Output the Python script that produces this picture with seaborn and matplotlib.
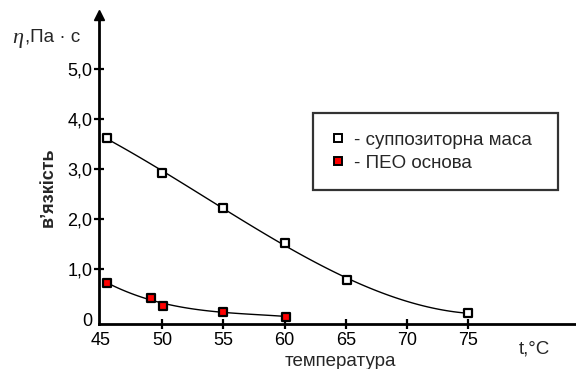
import matplotlib
matplotlib.use("Agg")
import matplotlib.pyplot as plt
import seaborn as sns
import pandas as pd
from matplotlib.lines import Line2D

# Viscosity of suppository bases vs temperature
supp_t = [45.5, 50.0, 55.0, 60.0, 65.1, 75.0]
supp_eta = [3.62, 2.92, 2.22, 1.52, 0.78, 0.12]

peo_t = [45.5, 49.1, 50.1, 55.0, 60.1]
peo_eta = [0.72, 0.42, 0.27, 0.14, 0.05]

x_ticks = [45, 50, 55, 60, 65, 70, 75]
y_ticks = [0, 1, 2, 3, 4, 5]
y_tick_labels = ["0", "1,0", "2,0", "3,0", "4,0", "5,0"]

supp = pd.DataFrame({"t": supp_t, "eta": supp_eta})
peo = pd.DataFrame({"t": peo_t, "eta": peo_eta})

sns.set_theme(style="ticks")
plt.rcParams["font.family"] = ["Liberation Sans", "DejaVu Sans"]

fig = plt.figure(figsize=(5.76, 3.69), dpi=100)
ax = fig.add_axes([99 / 576, 45 / 369, 477 / 576, 309 / 369])

# smooth trend curves
sns.regplot(data=supp, x="t", y="eta", order=3, ci=None, scatter=False,
            line_kws=dict(color="black", lw=1.0), ax=ax)
sns.regplot(data=peo, x="t", y="eta", order=3, ci=None, scatter=False,
            line_kws=dict(color="black", lw=1.0), ax=ax)

# data markers
sns.scatterplot(data=supp, x="t", y="eta", marker="s", s=38, color="white",
                edgecolor="black", linewidth=1.6, zorder=5, ax=ax)
sns.scatterplot(data=peo, x="t", y="eta", marker="s", s=38, color="#ff0000",
                edgecolor="black", linewidth=1.6, zorder=5, ax=ax)

ax.set_xlim(44.84, 83.82)
ax.set_ylim(-0.1, 6.08)
ax.set_xticks(x_ticks)
ax.set_xticklabels([str(v) for v in x_ticks])
ax.set_yticks(y_ticks)
ax.set_yticklabels(y_tick_labels)
ax.yaxis.get_major_ticks()[0].tick1line.set_visible(False)
ax.xaxis.get_major_ticks()[0].tick1line.set_visible(False)

ax.set_xlabel("")
ax.set_ylabel("")
for side in ("top", "right"):
    ax.spines[side].set_visible(False)
for side in ("left", "bottom"):
    ax.spines[side].set_linewidth(2.0)
    ax.spines[side].set_color("black")
ax.tick_params(axis="both", direction="inout", length=6.5, width=1.6,
               colors="black", labelsize=13, pad=2.5)
ax.tick_params(axis="y", pad=1.5)

# arrow at the top of the vertical axis
ax.plot(0, 1, marker="^", color="black", markersize=7, transform=ax.transAxes,
        clip_on=False, zorder=10)

# axis captions
fig.text(12 / 576, 1 - 38 / 369, "η", fontsize=16, va="center",
         ha="left", family="Liberation Serif", style="italic")
fig.text(25 / 576, 1 - 37 / 369, ",Па · с", fontsize=13.5, va="center",
         ha="left")
fig.text(48 / 576, 1 - 187 / 369, "в’язкість", fontsize=13, rotation=90,
         va="center", ha="center", fontweight="bold")
fig.text(340 / 576, 1 - 361 / 369, "температура", fontsize=13.5,
         va="center", ha="center")
fig.text(534 / 576, 1 - 349 / 369, "t,°C", fontsize=13.5, va="center",
         ha="center")

handles = [
    Line2D([], [], ls="none", marker="s", markersize=6, markerfacecolor="white",
           markeredgecolor="black", markeredgewidth=1.4),
    Line2D([], [], ls="none", marker="s", markersize=6, markerfacecolor="#ff0000",
           markeredgecolor="black", markeredgewidth=1.4),
]
leg = ax.legend(handles, ["- суппозиторна маса", "- ПЕО основа"],
                loc="upper left", bbox_to_anchor=(0.449, 0.430, 0.513, 0.253),
                mode="expand", fontsize=13.5, frameon=True, fancybox=False,
                borderpad=1.0, handlelength=0.6, handletextpad=0.6,
                labelspacing=0.3, borderaxespad=0)
leg.get_frame().set_edgecolor("black")
leg.get_frame().set_linewidth(1.6)

fig.savefig("out.png", dpi=100)
